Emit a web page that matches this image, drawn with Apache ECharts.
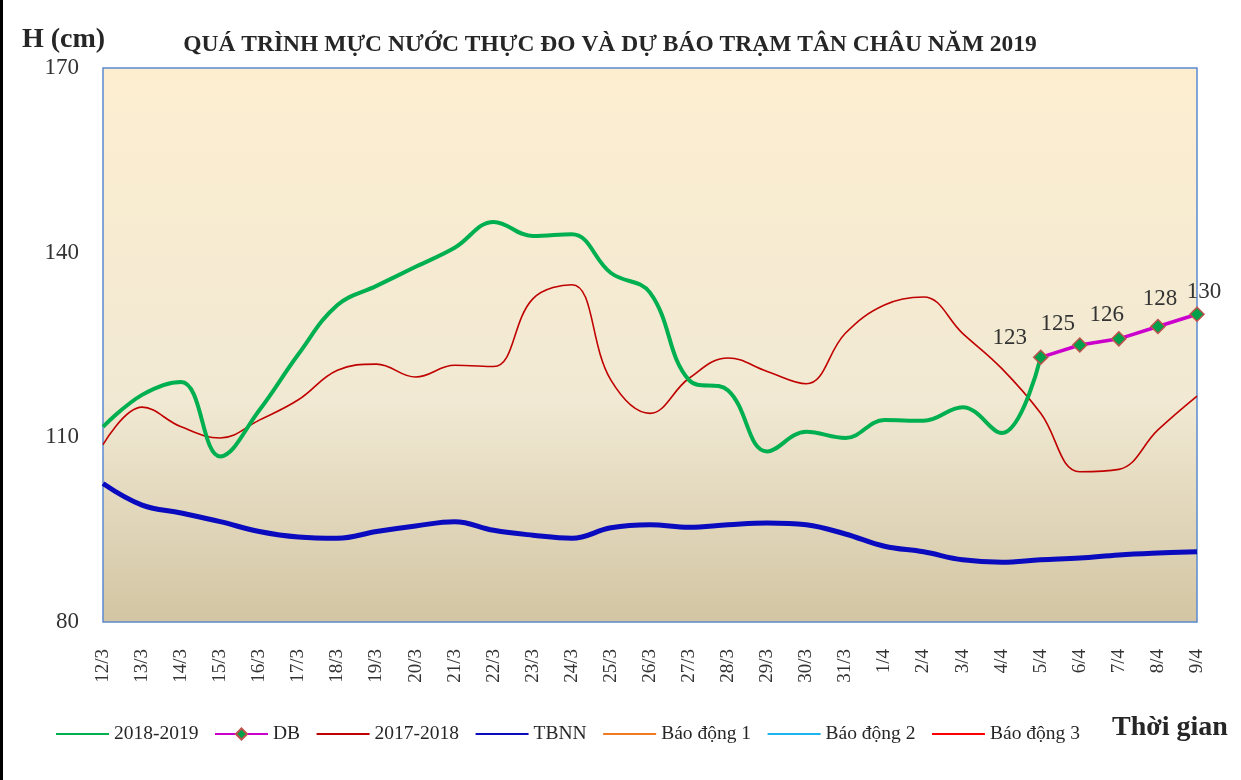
<!DOCTYPE html>
<html>
<head>
<meta charset="utf-8">
<title>Tân Châu 2019</title>
<script src="https://cdn.jsdelivr.net/npm/echarts@6/dist/echarts.min.js"></script>
<style>
    html, body { margin: 0; padding: 0; background: #fff; }
    #chart { width: 1241px; height: 780px; }
</style>
</head>
<body>
<div id="chart"></div>
<script>
    // ngày trên trục x
    const days = ['12/3', '13/3', '14/3', '15/3', '16/3', '17/3', '18/3', '19/3', '20/3', '21/3',
        '22/3', '23/3', '24/3', '25/3', '26/3', '27/3', '28/3', '29/3', '30/3', '31/3',
        '1/4', '2/4', '3/4', '4/4', '5/4', '6/4', '7/4', '8/4', '9/4']
    const yTicks = [80, 110, 140, 170]

    // thực đo 2018-2019
    const data2019 = [111.7, 116.9, 119, 106.9, 114.4, 123.5, 131.5, 134.6, 137.7, 140.8,
        145, 142.7, 143, 136.7, 133.5, 119.3, 117.6, 107.7, 110.9, 109.9,
        112.8, 112.7, 114.9, 110.7, 123]
    // dự báo
    const dataDB = [null, null, null, null, null, null, null, null, null, null,
        null, null, null, null, null, null, null, null, null, null,
        null, null, null, null, 123, 125, 126, 128, 130]
    // cùng kỳ 2017-2018
    const data2018 = [108.8, 114.9, 111.7, 109.9, 112.8, 116.1, 120.9, 121.9, 119.8, 121.7,
        121.5, 132.5, 134.8, 119.3, 113.9, 119.6, 122.9, 120.7, 118.7, 126.9,
        131.5, 132.8, 126.9, 121.2, 113.9, 104.4, 104.8, 111.2, 116.7]
    // trung bình nhiều năm
    const dataTBNN = [102.5, 99, 97.7, 96.3, 94.7, 93.8, 93.6, 94.7, 95.6, 96.3,
        94.9, 94.1, 93.6, 95.3, 95.8, 95.4, 95.8, 96.1, 95.8, 94.3,
        92.3, 91.4, 90.1, 89.7, 90.1, 90.4, 90.9, 91.2, 91.4]

    const serif = '"Liberation Serif", "DejaVu Serif", serif'
    const myChart = echarts.init(document.getElementById('chart'))

    // vị trí nhãn dự báo (lệch so với điểm)
    const dbLabelOffsets = [[-31, 5], [-22, 3], [-12, 0], [2, -3], [7, 2]]
    let k = 0
    const dbSeriesData = dataDB.map((v) => {
        if (v === null) return null
        const off = dbLabelOffsets[k++] || [0, 0]
        return { value: v, label: { offset: off } }
    })

    // legend: chỉ vẽ đường, không có ký hiệu
    const lineOnly = (name) => ({ name: name, itemStyle: { opacity: 0 } })

    const option = {
        backgroundColor: '#fff',
        animation: false,
        title: {
            text: 'QUÁ TRÌNH MỰC NƯỚC THỰC ĐO VÀ DỰ BÁO TRẠM TÂN CHÂU NĂM 2019',
            left: 605,
            textAlign: 'center',
            top: 28,
            textStyle: { fontFamily: serif, fontSize: 23.5, fontWeight: 'bold', color: '#262626' }
        },
        graphic: [
            { type: 'text', left: 22, top: 26, style: { text: 'H (cm)', font: 'bold 28px ' + serif, fill: '#262626' } },
            { type: 'text', left: 1112, top: 714, style: { text: 'Thời gian', font: 'bold 28px ' + serif, fill: '#262626' } },
            { type: 'rect', shape: { x: 0, y: 0, width: 3, height: 780 }, style: { fill: '#000' } }
        ],
        legend: {
            left: 50,
            top: 719,
            itemWidth: 53,
            itemHeight: 14,
            itemGap: 15.5,
            textStyle: { fontFamily: serif, fontSize: 19.5, color: '#262626' },
            data: [lineOnly('2018-2019'), 'DB', lineOnly('2017-2018'), lineOnly('TBNN'),
                lineOnly('Báo động 1'), lineOnly('Báo động 2'), lineOnly('Báo động 3')]
        },
        grid: {
            left: 103,
            right: 44,
            top: 68,
            bottom: 158,
            show: true,
            borderColor: '#5B8BCF',
            borderWidth: 1.5,
            backgroundColor: {
                type: 'linear', x: 0, y: 0, x2: 0, y2: 1,
                colorStops: [
                    { offset: 0, color: '#FDEED0' },
                    { offset: 0.6, color: '#F1E9D3' },
                    { offset: 1, color: '#D2C5A3' }
                ]
            }
        },
        xAxis: {
            type: 'category',
            data: days,
            boundaryGap: false,
            axisTick: { show: false },
            axisLine: { show: false },
            axisLabel: {
                rotate: 90,
                interval: 0,
                margin: 27,
                fontFamily: serif,
                fontSize: 19,
                color: '#333'
            }
        },
        yAxis: {
            type: 'value',
            min: yTicks[0],
            max: yTicks[yTicks.length - 1],
            interval: 30,
            splitLine: { show: false },
            axisLine: { show: false },
            axisTick: { show: false },
            axisLabel: { margin: 24, padding: [7, 0, 0, 0], fontFamily: serif, fontSize: 23, color: '#333' }
        },
        series: [
            {
                name: '2018-2019',
                type: 'line',
                smooth: 0.4,
                symbol: 'none',
                color: '#00B050',
                lineStyle: { width: 4 },
                data: data2019,
                z: 3
            },
            {
                name: 'DB',
                type: 'line',
                symbol: 'diamond',
                symbolSize: 14,
                color: '#CC00CC',
                lineStyle: { width: 3.5, color: '#CC00CC' },
                itemStyle: { color: '#00A04A', borderColor: '#C0504D', borderWidth: 1.5 },
                label: {
                    show: true,
                    position: 'top',
                    fontFamily: serif,
                    fontSize: 23,
                    color: '#333'
                },
                data: dbSeriesData,
                z: 4
            },
            {
                name: '2017-2018',
                type: 'line',
                smooth: 0.4,
                symbol: 'none',
                color: '#C00000',
                lineStyle: { width: 1.6 },
                data: data2018,
                z: 2
            },
            {
                name: 'TBNN',
                type: 'line',
                smooth: 0.4,
                symbol: 'none',
                color: '#0A0ABF',
                lineStyle: { width: 5 },
                data: dataTBNN,
                z: 2
            },
            { name: 'Báo động 1', type: 'line', symbol: 'none', color: '#F07820', lineStyle: { width: 2 }, data: [] },
            { name: 'Báo động 2', type: 'line', symbol: 'none', color: '#1EB4F0', lineStyle: { width: 2 }, data: [] },
            { name: 'Báo động 3', type: 'line', symbol: 'none', color: '#FF0000', lineStyle: { width: 2 }, data: [] }
        ]
    }
    myChart.setOption(option)
</script>
</body>
</html>
